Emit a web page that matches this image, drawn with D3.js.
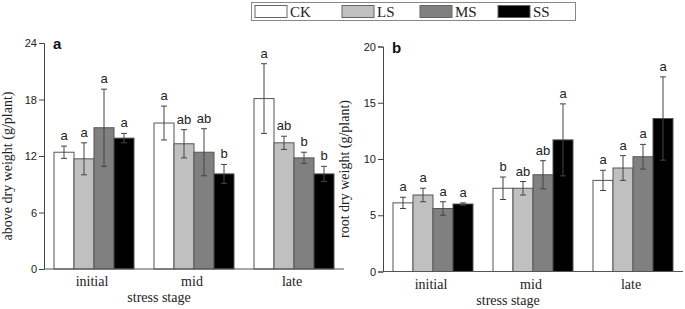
<!DOCTYPE html>
<html>
<head>
<meta charset="utf-8">
<script src="https://cdn.jsdelivr.net/npm/d3@7"></script>
<style>
  body { margin: 0; background: #fff; }
  svg { display: block; }
</style>
</head>
<body>
<div id="chart"></div>
<script>
// stages and treatments
const stages = ['initial', 'mid', 'late'];
const treatments = ['CK', 'LS', 'MS', 'SS'];
const fills = ['#ffffff', '#c0c0c0', '#808080', '#000000'];

// above dry weight (g/plant), one row per stage, CK LS MS SS
const aboveMean = [[12.4, 11.7, 15.0, 13.9], [15.5, 13.3, 12.4, 10.1], [18.1, 13.4, 11.8, 10.1]];
const aboveErr = [[0.65, 1.7, 4.1, 0.5], [1.8, 1.5, 2.5, 1.0], [3.7, 0.7, 0.6, 0.8]];
const aboveLetters = [['a', 'a', 'a', 'a'], ['a', 'ab', 'ab', 'b'], ['a', 'ab', 'b', 'b']];
const aboveTicks = [0, 6, 12, 18, 24];

// root dry weight (g/plant)
const rootMean = [[6.1, 6.8, 5.6, 6.0], [7.4, 7.4, 8.6, 11.7], [8.1, 9.2, 10.2, 13.6]];
const rootErr = [[0.5, 0.6, 0.6, 0.1], [1.0, 0.6, 1.25, 3.2], [0.9, 1.1, 1.1, 3.7]];
const rootLetters = [['a', 'a', 'a', 'a'], ['b', 'ab', 'ab', 'a'], ['a', 'a', 'a', 'a']];
const rootTicks = [0, 5, 10, 15, 20];

const width = 685, height = 309;
const svg = d3.select('#chart').append('svg')
  .attr('width', width).attr('height', height);

const serif = '"Liberation Serif", "Times New Roman", serif';
const sans = '"Liberation Sans", Arial, sans-serif';

function drawPanel(opts) {
  const { left, right, top, bottom, maxY, ticks, means, errs, letters, label, yTitle, titleX, titleOff } = opts;
  const g = svg.append('g');
  const x0 = d3.scaleBand().domain(stages).range([left, right]).paddingInner(0.2).paddingOuter(0.1);
  const x1 = d3.scaleBand().domain(treatments).range([0, x0.bandwidth()]);
  const y = d3.scaleLinear().domain([0, maxY]).range([bottom, top]);

  // bars + error bars
  stages.forEach((s, i) => {
    treatments.forEach((t, j) => {
      const bx = x0(s) + x1(t);
      const bw = x1.bandwidth();
      const m = means[i][j], e = errs[i][j];
      const cx = bx + bw / 2;
      g.append('rect')
        .attr('x', bx).attr('y', y(m))
        .attr('width', bw).attr('height', y(0) - y(m))
        .attr('fill', fills[j]).attr('stroke', '#555').attr('stroke-width', 1);
      const eg = g.append('g').attr('stroke', '#444').attr('stroke-width', 1);
      eg.append('line').attr('x1', cx).attr('x2', cx).attr('y1', y(m + e)).attr('y2', y(m - e));
      eg.append('line').attr('x1', cx - 3).attr('x2', cx + 3).attr('y1', y(m + e)).attr('y2', y(m + e));
      eg.append('line').attr('x1', cx - 3).attr('x2', cx + 3).attr('y1', y(m - e)).attr('y2', y(m - e));
      g.append('text')
        .attr('x', cx).attr('y', y(m + e) - 6)
        .attr('text-anchor', 'middle')
        .attr('font-family', sans).attr('font-size', 13)
        .attr('fill', '#222')
        .text(letters[i][j]);
    });
  });

  // y axis
  const yAxis = g.append('g')
    .attr('transform', `translate(${left},0)`)
    .call(d3.axisLeft(y).tickValues(ticks).tickSize(5).tickPadding(2));
  yAxis.select('.domain').attr('stroke', '#444');
  yAxis.selectAll('.tick line').attr('stroke', '#444');
  yAxis.selectAll('.tick text').attr('font-family', sans).attr('font-size', 11).attr('fill', '#222');

  // x axis line
  g.append('line')
    .attr('x1', left).attr('x2', right).attr('y1', bottom).attr('y2', bottom)
    .attr('stroke', '#555').attr('stroke-width', 1.2);

  // stage labels
  g.selectAll('.stage').data(stages).join('text')
    .attr('x', d => x0(d) + x0.bandwidth() / 2 - 2)
    .attr('y', bottom + 17)
    .attr('text-anchor', 'middle')
    .attr('font-family', serif).attr('font-size', 14).attr('fill', '#222')
    .text(d => d);

  g.append('text')
    .attr('x', titleX).attr('y', bottom + 33)
    .attr('text-anchor', 'middle')
    .attr('font-family', serif).attr('font-size', 14).attr('fill', '#222')
    .text('stress stage');

  g.append('text')
    .attr('transform', `translate(${left - titleOff},${(top + bottom) / 2 + 10}) rotate(-90)`)
    .attr('text-anchor', 'middle')
    .attr('font-family', serif).attr('font-size', 14).attr('fill', '#222')
    .text(yTitle);

  g.append('text')
    .attr('x', left + 9).attr('y', top + 6)
    .attr('font-family', sans).attr('font-size', 15).attr('font-weight', 'bold')
    .attr('fill', '#111')
    .text(label);
}

drawPanel({ left: 44, right: 344, top: 43, bottom: 269, maxY: 24, ticks: aboveTicks,
  means: aboveMean, errs: aboveErr, letters: aboveLetters, label: 'a',
  yTitle: 'above dry weight (g/plant)', titleX: 159, titleOff: 32 });
drawPanel({ left: 383, right: 683, top: 46.5, bottom: 271.5, maxY: 20, ticks: rootTicks,
  means: rootMean, errs: rootErr, letters: rootLetters, label: 'b',
  yTitle: 'root dry weight (g/plant)', titleX: 508, titleOff: 34 });

// legend
const legend = svg.append('g');
legend.append('rect')
  .attr('x', 251.5).attr('y', 2.5).attr('width', 324).attr('height', 18)
  .attr('fill', '#fff').attr('stroke', '#888');
const legX = d3.scalePoint().domain(treatments).range([255, 498]);
treatments.forEach((t, j) => {
  legend.append('rect')
    .attr('x', legX(t) + (j === 1 ? 6 : j === 2 ? 3 : 0)).attr('y', 5.5)
    .attr('width', 32).attr('height', 12)
    .attr('fill', fills[j]).attr('stroke', '#666');
  legend.append('text')
    .attr('x', legX(t) + (j === 1 ? 6 : j === 2 ? 3 : 0) + 35).attr('y', 17)
    .attr('font-family', serif).attr('font-size', 15).attr('fill', '#222')
    .text(t);
});
</script>
</body>
</html>
